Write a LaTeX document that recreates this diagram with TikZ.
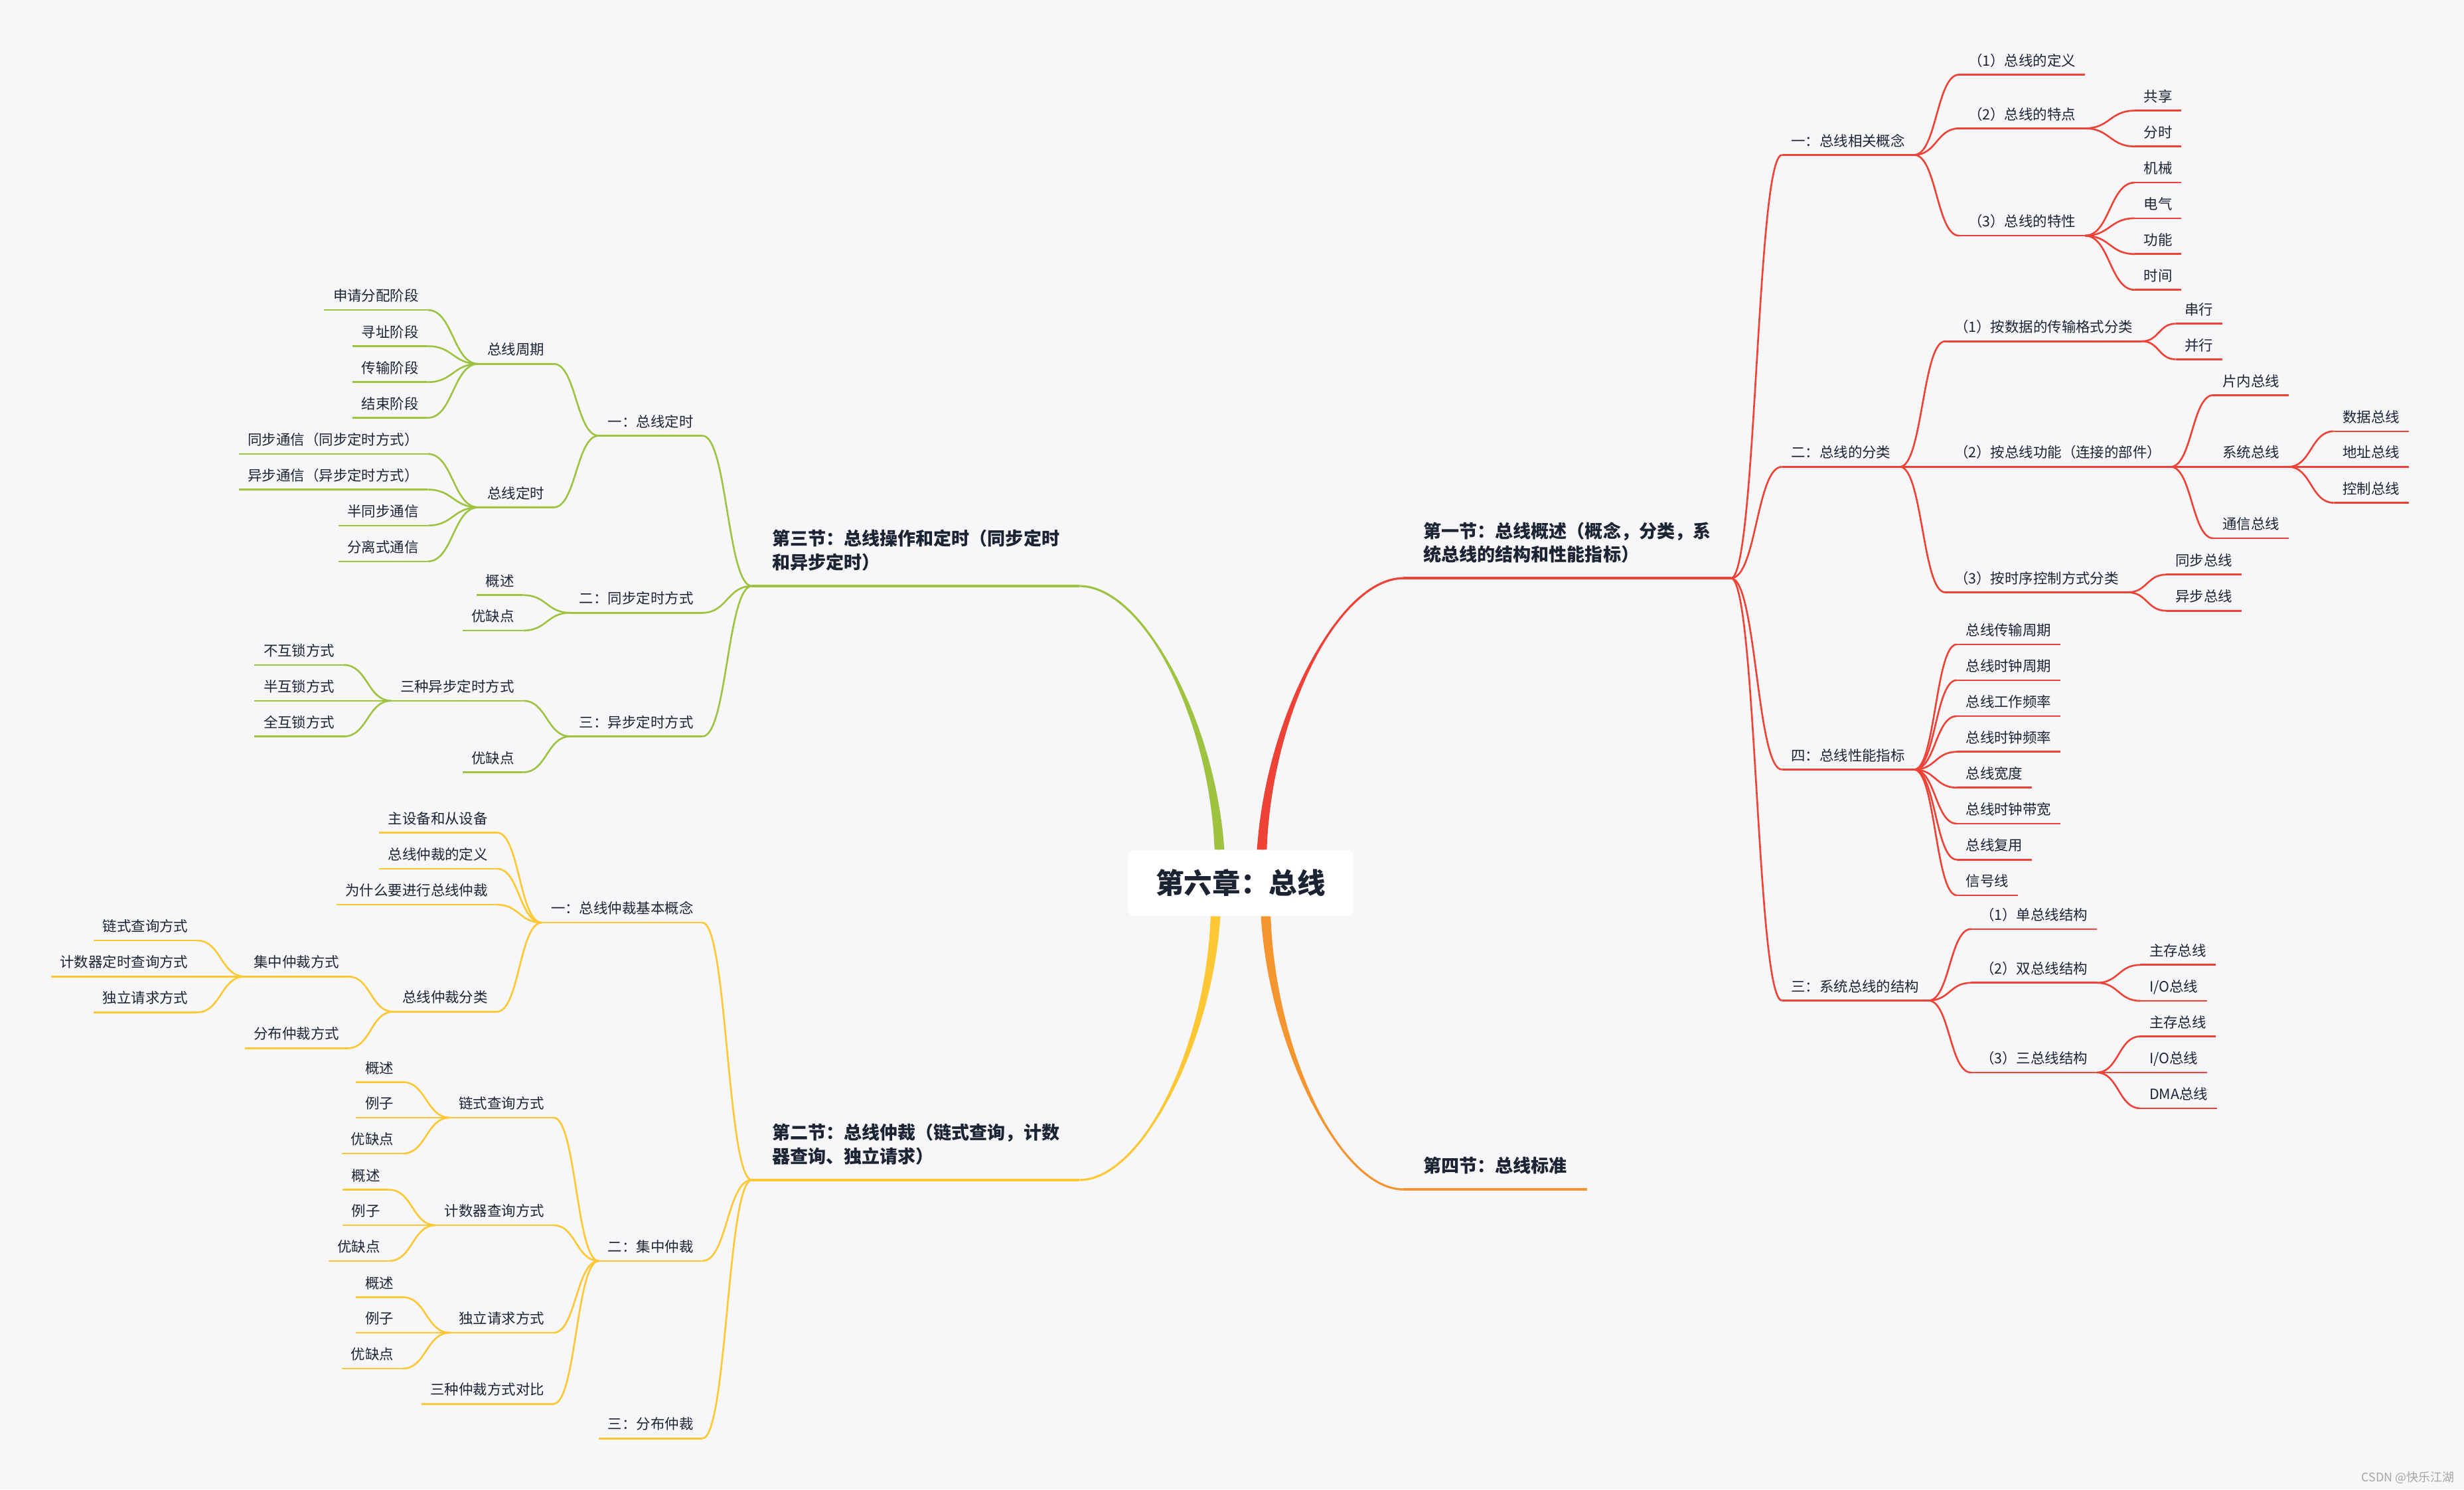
\documentclass[tikz,border=0pt]{standalone}
\usepackage{fontspec}
\setmainfont{Noto Sans CJK SC}
\usetikzlibrary{calc}

\definecolor{bgcol}{RGB}{247,247,250}
\definecolor{ink}{RGB}{28,36,52}
\definecolor{redbr}{RGB}{238,66,54}
\definecolor{greenbr}{RGB}{158,195,64}
\definecolor{yellowbr}{RGB}{254,199,52}
\definecolor{orangebr}{RGB}{244,149,48}
\definecolor{markgray}{RGB}{165,165,165}

\tikzset{
  topic/.style={text=ink, font=\fontsize{6.1}{7.3}\selectfont,
    inner xsep=3.7pt, inner ysep=3.6pt, text depth=0pt},
  rtopic/.style={topic, anchor=south west},
  ltopic/.style={topic, anchor=south east},
  section/.style={topic, font=\bfseries\fontsize{7.7}{10.1}\selectfont,
    align=left, inner xsep=8.4pt, inner ysep=7.1pt},
  rootbox/.style={text=ink, font=\bfseries\fontsize{12.1}{14}\selectfont,
    fill=white, rounded corners=2.4pt, inner sep=0pt,
    minimum width=3.39cm, minimum height=0.99cm},
  uline/.style={line width=0.75pt},
  link/.style={line width=0.75pt, to path={let \p1=(\tikztostart), \p2=(\tikztotarget) in
    .. controls (0.5*\x1+0.5*\x2,\y1) and (0.5*\x1+0.5*\x2,\y2) .. (\tikztotarget)}},
}

% tapered main branch: start, end, colour
\newcommand\mmtrunk[3]{%
  \fill[#3] let \p1=(#1), \p2=(#2) in
    (\x1-2.1pt,\y1) .. controls (0.95*\x1+0.05*\x2-1.2pt,0.5*\y1+0.5*\y2) and (0.45*\x1+0.55*\x2,\y2) .. (\x2,\y2)
    .. controls (0.45*\x1+0.55*\x2,\y2) and (0.95*\x1+0.05*\x2+1.2pt,0.5*\y1+0.5*\y2) .. (\x1+2.1pt,\y1) -- cycle;
  \draw[#3, line width=0.9pt] let \p1=(#1), \p2=(#2) in
    (\x1,\y1) .. controls (0.95*\x1+0.05*\x2,0.5*\y1+0.5*\y2) and (0.45*\x1+0.55*\x2,\y2) .. (\x2,\y2);
}

% children to the right: parent, x of start, colour, name/y/text
\newcommand\rkids[4]{%
  \foreach \kid/\ky/\lbl in {#4}{
    \node[rtopic] (\kid) at (#2,\ky) {\lbl};
    \draw[#3, uline] (\kid.south west) -- (\kid.south east);
    \draw[#3, link] (#1.south east) to (\kid.south west);
  }}
% children to the left: parent, x of end, colour, name/y/text
\newcommand\lkids[4]{%
  \foreach \kid/\ky/\lbl in {#4}{
    \node[ltopic] (\kid) at (#2,\ky) {\lbl};
    \draw[#3, uline] (\kid.south west) -- (\kid.south east);
    \draw[#3, link] (#1.south west) to (\kid.south east);
  }}

\begin{document}
\begin{tikzpicture}[x=0.023673cm, y=-0.023671cm]
  \fill[bgcol] (0,0) rectangle (1568,948);

  \node[rootbox] (root) at (789.5,562) {第六章：总线};

  % sections
  \node[section, anchor=south west] (sec1) at (893,368) {第一节：总线概述（概念，分类，系\\统总线的结构和性能指标）};
  \node[section, anchor=south west] (sec4) at (893,757) {第四节：总线标准};
  \node[section, anchor=south east] (sec3) at (687,373) {第三节：总线操作和定时（同步定时\\和异步定时）};
  \node[section, anchor=south east] (sec2) at (687,751) {第二节：总线仲裁（链式查询，计数\\器查询、独立请求）};
  \foreach \s/\clr in {sec1/redbr, sec4/orangebr, sec3/greenbr, sec2/yellowbr}
    \draw[\clr, line width=1pt] (\s.south west) -- (\s.south east);

  \mmtrunk{$(root.north)+(13.5,0)$}{sec1.south west}{redbr}
  \mmtrunk{$(root.south)+(16,0)$}{sec4.south west}{orangebr}
  \mmtrunk{$(root.north)+(-13.5,0)$}{sec3.south east}{greenbr}
  \mmtrunk{$(root.south)+(-16,0)$}{sec2.south east}{yellowbr}

  % section 1
  \rkids{sec1}{1134}{redbr}{a1/98.6/一：总线相关概念, a2/297.1/二：总线的分类,
    a4/489.8/四：总线性能指标, a3/636.8/三：系统总线的结构}
  \rkids{a1}{1246.7}{redbr}{a11/47.5/（1）总线的定义, a12/81.7/（2）总线的特点, a13/150/（3）总线的特性}
  \rkids{a12}{1358.5}{redbr}{a121/70.4/共享, a122/93.2/分时}
  \rkids{a13}{1358.5}{redbr}{a131/116.2/机械, a132/138.9/电气, a133/161.7/功能, a134/184.5/时间}
  \rkids{a2}{1237.8}{redbr}{a21/217.2/（1）按数据的传输格式分类,
    a22/297.1/（2）按总线功能（连接的部件）, a23/377/（3）按时序控制方式分类}
  \rkids{a21}{1384.5}{redbr}{a211/206/串行, a212/228.7/并行}
  \rkids{a22}{1408.5}{redbr}{a221/251.5/片内总线, a222/297.1/系统总线, a223/342.6/通信总线}
  \rkids{a222}{1485}{redbr}{a2221/274.5/数据总线, a2222/297.1/地址总线, a2223/320/控制总线}
  \rkids{a23}{1378.5}{redbr}{a231/365.7/同步总线, a232/388.7/异步总线}
  \rkids{a4}{1245.2}{redbr}{a41/410.1/总线传输周期, a42/432.9/总线时钟周期,
    a43/455.8/总线工作频率, a44/478.5/总线时钟频率, a45/501.3/总线宽度,
    a46/524.2/总线时钟带宽, a47/547.1/总线复用, a48/569.8/信号线}
  \rkids{a3}{1254.3}{redbr}{a31/591.3/（1）单总线结构, a32/625.5/（2）双总线结构, a33/682.6/（3）三总线结构}
  \rkids{a32}{1362}{redbr}{a321/614.1/主存总线, a322/637/{I/O总线}}
  \rkids{a33}{1362}{redbr}{a331/659.6/主存总线, a332/682.6/{I/O总线}, a333/705.4/DMA总线}

  % section 3
  \lkids{sec3}{447}{greenbr}{b1/277.3/一：总线定时, b2/390/二：同步定时方式, b3/468.7/三：异步定时方式}
  \lkids{b1}{352.3}{greenbr}{b11/231.6/总线周期, b12/322.9/总线定时}
  \lkids{b11}{272.2}{greenbr}{b111/197.3/申请分配阶段, b112/220.3/寻址阶段,
    b113/243.2/传输阶段, b114/265.9/结束阶段}
  \lkids{b12}{272.2}{greenbr}{b121/288.9/同步通信（同步定时方式）, b122/311.6/异步通信（异步定时方式）,
    b123/334.5/半同步通信, b124/357.3/分离式通信}
  \lkids{b2}{333}{greenbr}{b21/378.8/概述, b22/401.3/优缺点}
  \lkids{b3}{333}{greenbr}{b31/446/三种异步定时方式, b32/491.5/优缺点}
  \lkids{b31}{218.8}{greenbr}{b311/423.2/不互锁方式, b312/446/半互锁方式, b313/468.7/全互锁方式}

  % section 2
  \lkids{sec2}{447}{yellowbr}{c1/587.2/一：总线仲裁基本概念, c2/802.5/二：集中仲裁, c3/915.5/三：分布仲裁}
  \lkids{c1}{316.2}{yellowbr}{c11/529.9/主设备和从设备, c12/552.9/总线仲裁的定义,
    c13/575.8/为什么要进行总线仲裁, c14/643.9/总线仲裁分类}
  \lkids{c14}{221.6}{yellowbr}{c141/621.5/集中仲裁方式, c142/667.1/分布仲裁方式}
  \lkids{c141}{125.5}{yellowbr}{c1411/598.6/链式查询方式, c1412/621.5/计数器定时查询方式, c1413/644.3/独立请求方式}
  \lkids{c2}{352.2}{yellowbr}{c21/711.3/链式查询方式, c22/779.8/计数器查询方式,
    c23/848.2/独立请求方式, c24/893.5/三种仲裁方式对比}
  \lkids{c21}{256.3}{yellowbr}{c211/688.7/概述, c212/711.3/例子, c213/734.2/优缺点}
  \lkids{c22}{247.7}{yellowbr}{c221/757.2/概述, c222/779.8/例子, c223/802.5/优缺点}
  \lkids{c23}{256.3}{yellowbr}{c231/825.6/概述, c232/848.2/例子, c233/871/优缺点}

  \node[anchor=base east, text=markgray, font=\fontsize{5.1}{6}\selectfont, inner sep=0pt]
    (mark) at (1562,943) {CSDN @快乐江湖};
\end{tikzpicture}
\end{document}
